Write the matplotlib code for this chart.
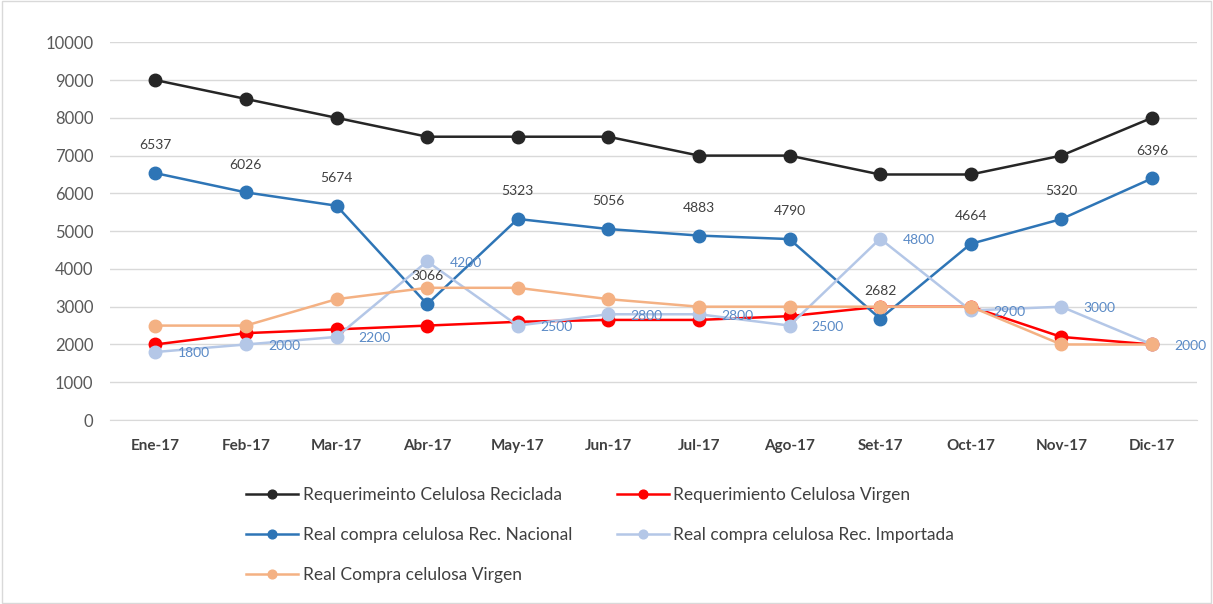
import matplotlib.pyplot as plt
from matplotlib.patches import Rectangle

plt.rcParams['font.family'] = ['Lato', 'DejaVu Sans']

meses = ['Ene-17', 'Feb-17', 'Mar-17', 'Abr-17', 'May-17', 'Jun-17',
         'Jul-17', 'Ago-17', 'Set-17', 'Oct-17', 'Nov-17', 'Dic-17']

req_reciclada = [9000, 8500, 8000, 7500, 7500, 7500, 7000, 7000, 6500, 6500, 7000, 8000]
req_virgen = [2000, 2300, 2400, 2500, 2600, 2650, 2650, 2750, 3000, 3000, 2200, 2000]
real_nacional = [6537, 6026, 5674, 3066, 5323, 5056, 4883, 4790, 2682, 4664, 5320, 6396]
real_importada = [1800, 2000, 2200, 4200, 2500, 2800, 2800, 2500, 4800, 2900, 3000, 2000]
real_virgen = [2500, 2500, 3200, 3500, 3500, 3200, 3000, 3000, 3000, 3000, 2000, 2000]

fig = plt.figure(figsize=(12.13, 6.04), dpi=100)
ax = fig.add_axes([0.0907, 0.3046, 0.8963, 0.6254])

x = list(range(len(meses)))
kw = dict(lw=1.8, marker='o', markersize=9)

l1, = ax.plot(x, req_reciclada, color='#262626', label='Requerimeinto Celulosa Reciclada', zorder=3, **kw)
l2, = ax.plot(x, req_virgen, color='#FF0000', label='Requerimiento Celulosa Virgen', zorder=4, **kw)
l3, = ax.plot(x, real_nacional, color='#2E75B6', label='Real compra celulosa Rec. Nacional', zorder=5, **kw)
l4, = ax.plot(x, real_importada, color='#B4C7E7', label='Real compra celulosa Rec. Importada', zorder=6, **kw)
l5, = ax.plot(x, real_virgen, color='#F4B183', label='Real Compra celulosa Virgen', zorder=7, **kw)

for xi, v in zip(x, real_nacional):
    ax.annotate(str(v), (xi, v), xytext=(0, 20), textcoords='offset points',
                ha='center', va='center', fontsize=10, color='#404040', zorder=10)
for xi, v in zip(x, real_importada):
    ax.annotate(str(v), (xi, v), xytext=(16, -1), textcoords='offset points',
                ha='left', va='center', fontsize=10, color='#5A8AC6', zorder=10)

ax.set_xlim(-0.5, len(meses) - 0.5)
ax.set_ylim(0, 10000)
ax.set_yticks(range(0, 10001, 1000))
ax.set_xticks(x)
ax.set_xticklabels(meses, fontweight='bold', fontsize=11, color='#404040')
ax.tick_params(axis='y', labelsize=12, colors='#595959', length=0, pad=12)
ax.tick_params(axis='x', length=0, pad=14)
ax.grid(axis='y', color='#D9D9D9', lw=1)
ax.set_axisbelow(True)
for s in ['top', 'right', 'left']:
    ax.spines[s].set_visible(False)
ax.spines['bottom'].set_color('#D9D9D9')

handles = [l1, l3, l5, l2, l4]
leg = fig.legend(handles=handles, labels=[h.get_label() for h in handles],
                 ncol=2, loc='upper left', bbox_to_anchor=(0.19, 0.22),
                 frameon=False, fontsize=12.5, handlelength=3.0, markerscale=0.7,
                 columnspacing=2.6, labelspacing=1.4, handletextpad=0.25,
                 labelcolor='#404040')

fig.patches.append(Rectangle((0.002, 0.002), 0.996, 0.996, transform=fig.transFigure,
                             fill=False, edgecolor='#D9D9D9', lw=1))

fig.savefig('out.png', dpi=100)
